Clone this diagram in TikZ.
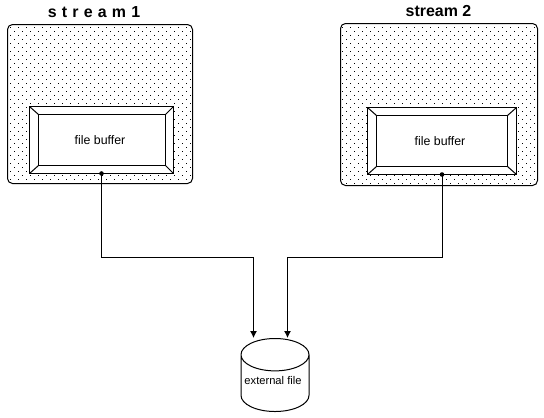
\documentclass[tikz,border=0pt]{standalone}
\usepackage{fontspec}
\setmainfont{Liberation Sans}
\usetikzlibrary{arrows.meta,positioning,shapes.geometric}
\newcommand{\tgap}{\hspace{5.2bp}}

\begin{document}
\begin{tikzpicture}[
  x=1bp, y=-1bp,
  line width=1bp,
  streambox/.style={draw, rounded corners=5bp, anchor=north west, inner sep=0pt, outer sep=0pt},
  buffer/.style={draw, fill=white, anchor=north west, inner sep=0pt, outer sep=0pt, font=\fontsize{12.4}{14}\selectfont},
  title/.style={font=\fontsize{16}{18}\selectfont\bfseries},
  arr/.style={-{Latex[length=7bp,width=7bp]}},
  store/.style={draw, cylinder, shape border rotate=90, aspect=0.53, anchor=shape center, inner sep=0pt, outer sep=0pt, font=\fontsize{11.2}{13}\selectfont},
]
\useasboundingbox (0,0) rectangle (544,417);

% stream 1
\node[streambox, minimum width=185bp, minimum height=159bp] (str1) at (7.5,24.5) {};
\node[title] (tit1) at (94,12) {s\tgap t\tgap r\tgap e\tgap a\tgap m\tgap 1};
\begin{scope}
  \clip[rounded corners=5bp] (8,25) rectangle (192,183);
  \foreach \row in {0,...,39} {
    \pgfmathsetmacro{\off}{mod(\row,2)*4}
    \foreach \col in {0,...,23}
      \fill (10+\col*8-\off,27+\row*4) rectangle +(1,1);
  }
\end{scope}
\node[buffer, minimum width=144bp, minimum height=67bp] (outer1) at (29.5,106.5) {};
\node[buffer, minimum width=127bp, minimum height=51bp] (buf1) at (38.5,114.5) {file buffer\kern4bp};
\draw (outer1.north west) -- (buf1.north west);
\draw (outer1.north east) -- (buf1.north east);
\draw (outer1.south west) -- (buf1.south west);
\draw (outer1.south east) -- (buf1.south east);

% stream 2
\node[streambox, minimum width=197bp, minimum height=162bp] (str2) at (340.5,23.5) {};
\node[title] (tit2) at (438.5,11.5) {stream 2};
\begin{scope}
  \clip[rounded corners=5bp] (341,24) rectangle (537,185);
  \foreach \row in {0,...,40} {
    \pgfmathsetmacro{\off}{mod(\row,2)*4}
    \foreach \col in {0,...,25}
      \fill (342+\col*8-\off,27+\row*4) rectangle +(1,1);
  }
\end{scope}
\node[buffer, minimum width=149bp, minimum height=67bp] (outer2) at (367.5,107.5) {};
\node[buffer, minimum width=131bp, minimum height=51bp] (buf2) at (376.5,115.5) {file buffer\kern4bp};
\draw (outer2.north west) -- (buf2.north west);
\draw (outer2.north east) -- (buf2.north east);
\draw (outer2.south west) -- (buf2.south west);
\draw (outer2.south east) -- (buf2.south east);

% external file
\node[store, minimum width=68bp, minimum height=73bp] (ext) at (275,375) {\raisebox{5bp}{external file}\kern4bp};

\coordinate (bend1) at (101.5,257.5);
\coordinate (bend2) at (442,257.5);
\coordinate (in1) at (253.5,338);
\coordinate (in2) at (287.5,338);
\fill (outer1.south -| bend1) circle (2.3);
\fill (outer2.south -| bend2) circle (2.3);
\draw[arr] (outer1.south -| bend1) -- (bend1) -| (in1);
\draw[arr] (outer2.south -| bend2) -- (bend2) -| (in2);
\end{tikzpicture}
\end{document}
